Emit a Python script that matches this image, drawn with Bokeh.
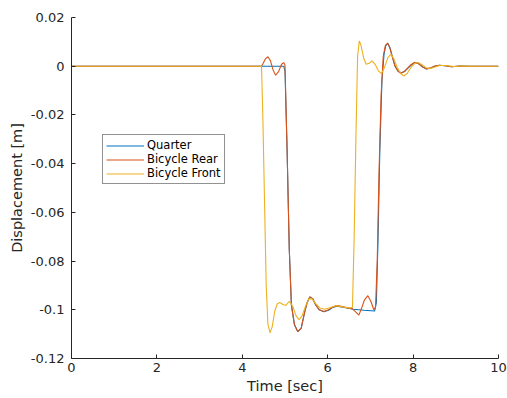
from bokeh.plotting import figure
from bokeh.models import FixedTicker, Legend, LegendItem, Range1d
from bokeh.embed import file_html
from bokeh.resources import INLINE

# ---- data ----
quarter_t = [0, 4.45, 4.97, 5.0, 5.05, 5.1, 5.15, 5.22, 5.3, 5.38, 5.46, 5.52, 5.58, 5.65, 5.72,
             5.8, 5.91, 6.02, 6.12, 6.22, 6.32, 6.45, 6.6, 6.85, 7.1, 7.14, 7.18, 7.22, 7.27,
             7.32, 7.36, 7.41, 7.46, 7.52, 7.58, 7.65, 7.72, 7.8, 7.88, 7.96, 8.05, 8.14, 8.23,
             8.32, 8.42, 8.52, 8.62, 8.75, 8.9, 9.1, 9.3, 9.6, 10]
quarter_v = [0, 0, 0, -0.002, -0.035, -0.075, -0.098, -0.106, -0.109, -0.1075, -0.101, -0.097,
             -0.0948, -0.0955, -0.098, -0.1, -0.1008, -0.1002, -0.099, -0.0985, -0.0988, -0.0993,
             -0.0998, -0.1002, -0.1005, -0.097, -0.07, -0.035, -0.006, 0.005, 0.0085, 0.0093,
             0.0075, 0.0035, 0.0, -0.002, -0.0028, -0.0022, -0.0008, 0.0006, 0.0015, 0.0009,
             -0.0003, -0.0011, -0.0007, 0.0001, 0.0004, 0.0002, -0.0002, 0.0001, 0.0, 0.0, 0.0]

rear_t = [0, 4.45, 4.49, 4.54, 4.6, 4.66, 4.72, 4.78, 4.85, 4.92, 4.97, 5.0, 5.05, 5.1, 5.15,
          5.22, 5.3, 5.38, 5.46, 5.52, 5.58, 5.65, 5.72, 5.8, 5.91, 6.02, 6.12, 6.22, 6.32, 6.45,
          6.58, 6.66, 6.73, 6.79, 6.86, 6.94, 7.01, 7.08, 7.12, 7.16, 7.2, 7.25, 7.3, 7.35, 7.4,
          7.45, 7.51, 7.57, 7.64, 7.71, 7.79, 7.87, 7.95, 8.04, 8.13, 8.22, 8.31, 8.41, 8.51,
          8.61, 8.74, 8.9, 9.1, 9.3, 9.6, 10]
rear_v = [0, 0, 0.0012, 0.003, 0.0039, 0.0022, -0.0015, -0.0037, -0.0022, 0.0008, 0.0015,
          0.0005, -0.035, -0.075, -0.098, -0.106, -0.109, -0.1075, -0.101, -0.097, -0.0946,
          -0.0955, -0.098, -0.1, -0.1007, -0.1, -0.0988, -0.0983, -0.0986, -0.0992, -0.0996,
          -0.101, -0.1022, -0.0995, -0.096, -0.0942, -0.0965, -0.1, -0.099, -0.08, -0.045,
          -0.012, 0.004, 0.0085, 0.0095, 0.0078, 0.004, 0.0002, -0.002, -0.0029, -0.0022,
          -0.0008, 0.0006, 0.0016, 0.001, -0.0003, -0.0011, -0.0006, 0.0001, 0.0004, 0.0002,
          -0.0002, 0.0001, 0.0, 0.0, 0.0]

front_t = [0, 4.45, 4.48, 4.52, 4.56, 4.6, 4.65, 4.7, 4.76, 4.82, 4.88, 4.95, 5.02, 5.1,
           5.18, 5.26, 5.33, 5.4, 5.48, 5.56, 5.63, 5.72, 5.82, 5.92, 6.05, 6.2, 6.35, 6.5,
           6.58, 6.62, 6.66, 6.7, 6.74, 6.78, 6.84, 6.9, 6.97, 7.04, 7.11, 7.19, 7.26, 7.33,
           7.41, 7.48, 7.55, 7.63, 7.71, 7.78, 7.86, 7.95, 8.04, 8.12, 8.21, 8.3, 8.39, 8.5,
           8.62, 8.78, 8.95, 9.15, 9.4, 10]
front_v = [0, 0, -0.02, -0.055, -0.09, -0.106, -0.1095, -0.107, -0.1005, -0.0975, -0.097,
           -0.0978, -0.0982, -0.0965, -0.0985, -0.1025, -0.104, -0.1025, -0.0985, -0.0955,
           -0.0955, -0.0975, -0.0993, -0.0998, -0.0992, -0.0983, -0.0988, -0.0993, -0.099,
           -0.07, -0.03, 0.004, 0.0104, 0.0085, 0.0035, 0.0008, 0.0012, 0.0022, 0.0008, -0.002,
           -0.003, -0.0005, 0.0035, 0.005, 0.003, -0.0005, -0.003, -0.004, -0.003, -0.0005,
           0.0012, 0.0015, 0.0006, -0.0006, -0.001, -0.0004, 0.0003, 0.0003, -0.0001, 0.0001,
           0.0, 0.0]

series_names = ["Quarter", "Bicycle Rear", "Bicycle Front"]
series_colors = ["#0072BD", "#D95319", "#EDB120"]

x_ticks = [0, 2, 4, 6, 8, 10]
y_ticks = [0.02, 0, -0.02, -0.04, -0.06, -0.08, -0.1, -0.12]
y_tick_labels = ["0.02", "0", "-0.02", "-0.04", "-0.06", "-0.08", "-0.1", "-0.12"]

FONT = "DejaVu Sans"
TXT = "#262626"

p = figure(width=507, height=398, output_backend="svg", toolbar_location=None,
           x_range=Range1d(0, 10), y_range=Range1d(-0.12, 0.02),
           min_border_left=71, min_border_right=9, min_border_top=17, min_border_bottom=40)
p.outline_line_color = None
p.xgrid.visible = False
p.ygrid.visible = False
p.background_fill_color = "white"

r1 = p.line(quarter_t, quarter_v, line_color=series_colors[0], line_width=1.1)
r2 = p.line(rear_t, rear_v, line_color=series_colors[1], line_width=1.1)
r3 = p.line(front_t, front_v, line_color=series_colors[2], line_width=1.1)

for ax in (p.xaxis[0], p.yaxis[0]):
    ax.axis_line_color = TXT
    ax.major_tick_line_color = TXT
    ax.major_tick_in = 4
    ax.major_tick_out = 0
    ax.minor_tick_line_color = None
    ax.major_label_text_font = FONT
    ax.major_label_text_font_size = "13px"
    ax.major_label_text_color = TXT
    ax.axis_label_text_font = FONT
    ax.axis_label_text_font_size = "14.5px"
    ax.axis_label_text_font_style = "normal"
    ax.axis_label_text_color = TXT

p.xaxis.ticker = FixedTicker(ticks=x_ticks)
p.yaxis.ticker = FixedTicker(ticks=y_ticks)
p.yaxis.major_label_overrides = {t: s for t, s in zip(y_ticks, y_tick_labels)}
p.xaxis.axis_label = "Time [sec]"
p.yaxis.axis_label = "Displacement [m]"
p.xaxis.major_label_standoff = 4
p.yaxis.major_label_standoff = 7
p.xaxis.axis_label_standoff = 3
p.yaxis.axis_label_standoff = 3

legend = Legend(items=[LegendItem(label=n, renderers=[r]) for n, r in zip(series_names, [r1, r2, r3])],
                location=(31, 174))
legend.label_text_font = FONT
legend.label_text_font_size = "11.5px"
legend.label_text_color = "black"
legend.glyph_width = 38
legend.glyph_height = 13
legend.label_height = 13
legend.spacing = 0
legend.padding = 3
legend.margin = 0
legend.label_standoff = 3
legend.border_line_color = TXT
legend.border_line_width = 1
legend.background_fill_alpha = 1
p.add_layout(legend, "center")

open("out.html", "w").write(file_html(p, INLINE))
